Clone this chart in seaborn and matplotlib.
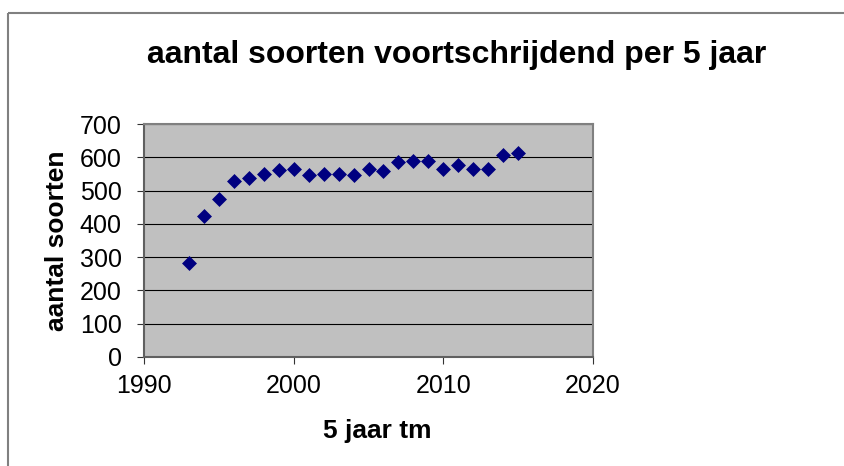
import pandas as pd
import seaborn as sns
import matplotlib.pyplot as plt
from matplotlib.lines import Line2D

# 5-jaar voortschrijdend aantal soorten
jaren = [1993, 1994, 1995, 1996, 1997, 1998, 1999, 2000, 2001, 2002, 2003, 2004,
         2005, 2006, 2007, 2008, 2009, 2010, 2011, 2012, 2013, 2014, 2015]
soorten = [283, 423, 474, 528, 539, 551, 562, 564, 546, 549, 551, 546,
           564, 559, 587, 589, 589, 564, 576, 564, 564, 607, 612]
xticks = [1990, 2000, 2010, 2020]
yticks = [0, 100, 200, 300, 400, 500, 600, 700]

df = pd.DataFrame({"jaar": jaren, "soorten": soorten})

sns.set_style("white")
plt.rcParams["font.family"] = ["Liberation Sans", "DejaVu Sans"]
plt.rcParams["text.color"] = "black"
plt.rcParams["axes.labelcolor"] = "black"
plt.rcParams["xtick.color"] = "black"
plt.rcParams["ytick.color"] = "black"

fig = plt.figure(figsize=(8.45, 4.66), dpi=100)
ax = fig.add_axes([144 / 845, 1 - 357 / 466, 449 / 845, 233 / 466])
ax.set_facecolor("#c0c0c0")

sns.scatterplot(data=df, x="jaar", y="soorten", marker="D", s=58,
                color="#000080", linewidth=0, ax=ax, zorder=3)

ax.set_xlim(1990, 2020)
ax.set_ylim(0, 700)
ax.set_xticks(xticks)
ax.set_yticks(yticks)
ax.grid(axis="y", color="black", linewidth=0.8)
ax.grid(axis="x", visible=False)
ax.set_axisbelow(True)
ax.tick_params(axis="both", direction="out", length=5, width=0.8,
               color="#333333", labelsize=18, labelcolor="black")
ax.tick_params(axis="x", pad=7.5, bottom=True)
ax.tick_params(axis="y", pad=11, left=True)

for side in ["top", "right"]:
    ax.spines[side].set_color("#808080")
    ax.spines[side].set_linewidth(1.5)
for side in ["left", "bottom"]:
    ax.spines[side].set_color("#606060")
    ax.spines[side].set_linewidth(1.5)

ax.set_xlabel("5 jaar tm", fontsize=19, fontweight="bold", color="black")
ax.xaxis.label.set_va("baseline")
ax.xaxis.set_label_coords((377 - 144) / 449, (357 - 438) / 233)
ax.set_ylabel("aantal soorten", fontsize=19, fontweight="bold", color="black")
ax.yaxis.label.set_va("center")
ax.yaxis.label.set_ha("center")
ax.yaxis.set_label_coords((57 - 144) / 449, 0.5)

fig.text(457 / 845, 1 - 63 / 466, "aantal soorten voortschrijdend per 5 jaar",
         ha="center", va="baseline", fontsize=23, fontweight="bold",
         color="black")

# rand van het grafiekgebied: alleen links en boven zichtbaar
bx = 8 / 845
by = 1 - 13 / 466
fig.add_artist(Line2D([bx, bx], [-0.05, by], transform=fig.transFigure,
                      color="#808080", linewidth=1.5,
                      solid_capstyle="butt"))
fig.add_artist(Line2D([bx, 0.999], [by, by], transform=fig.transFigure,
                      color="#808080", linewidth=1.5,
                      solid_capstyle="butt"))

fig.savefig("out.png", dpi=100)
